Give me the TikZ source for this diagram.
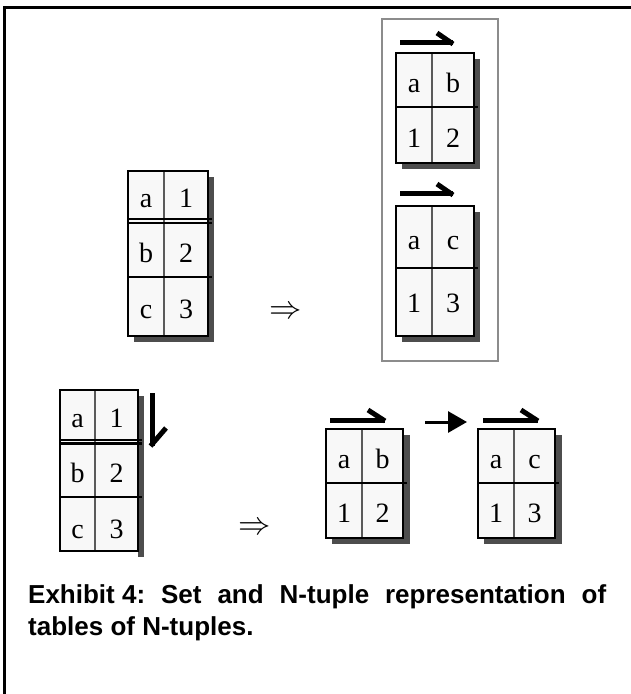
\documentclass[tikz,border=0pt]{standalone}
\usepackage{fontspec}
\setmainfont{Liberation Serif}
\newfontfamily\capfont{Liberation Sans}
\usetikzlibrary{arrows.meta}

\definecolor{shadowgray}{HTML}{4D4D4D}
\definecolor{cellfill}{HTML}{F8F8F8}
\definecolor{boxgray}{HTML}{8C8C8C}
\definecolor{divgray}{HTML}{5A5A5A}

\tikzset{
  shadowfill/.style={fill=shadowgray},
  tablefill/.style={fill=cellfill},
  celltext/.style={inner sep=0pt, text height=24pt, text depth=0pt,
    font=\fontsize{28}{30}\selectfont},
  frame/.style={draw=black, line width=2.6pt},
  coldiv/.style={draw=divgray, line width=2pt},
  rowdiv/.style={draw=black, line width=2.6pt},
  harpoon/.style={draw=black, line width=5pt, line cap=butt},
  implies/.style={inner sep=0pt, scale=1.3, font=\fontsize{24.88}{26}\selectfont},
  caption/.style={inner sep=0pt, anchor=base west,
    font=\capfont\bfseries\fontsize{26}{30}\selectfont},
}

\begin{document}
\begin{tikzpicture}[x=1pt,y=-1pt]
\useasboundingbox (0,0) rectangle (631,694);

% page rules along the top and left
\draw[line width=3pt] (3,7.5) -- (631,7.5);
\draw[line width=3pt] (4.5,6) -- (4.5,694);

% ---------- set of tuples: table with three rows ----------
\fill[shadowfill] (134,177) rectangle (214,342);
\fill[tablefill] (128,171) rectangle (208,336);
\node[celltext] (tl-a) at (146,195) {a};
\node[celltext] (tl-1) at (186,195) {1};
\node[celltext] (tl-b) at (146,250) {b};
\node[celltext] (tl-2) at (186,250) {2};
\node[celltext] (tl-c) at (146,306.5) {c};
\node[celltext] (tl-3) at (186,306.5) {3};
\draw[coldiv] (164,171) -- (164,336);
\draw[rowdiv] (128,219) -- (212,219) (128,223) -- (212,223) (128,277) -- (212,277);
\draw[frame] (128,171) rectangle (208,336);

\node[implies] (imp1) at (286,312.5) {$\Rightarrow$};

% ---------- group of two tuples ----------
\draw[draw=boxgray, line width=2.5pt] (382,19) rectangle (498,361);

% tuple a b / 1 2
\draw[harpoon] (400,42) -- (453,42);
\draw[harpoon] (437,33) -- (453,44);
\fill[shadowfill] (402,59) rectangle (480,169);
\fill[tablefill] (396,53) rectangle (474,163);
\node[celltext] (ta-a) at (414,80) {a};
\node[celltext] (ta-b) at (453,80) {b};
\node[celltext] (ta-1) at (414,135) {1};
\node[celltext] (ta-2) at (453,135) {2};
\draw[coldiv] (432,53) -- (432,163);
\draw[rowdiv] (396,107) -- (478,107);
\draw[frame] (396,53) rectangle (474,163);

% tuple a c / 1 3
\draw[harpoon] (400,193) -- (453,193);
\draw[harpoon] (437,184) -- (453,195);
\fill[shadowfill] (402,212) rectangle (480,342);
\fill[tablefill] (396,206) rectangle (474,336);
\node[celltext] (tb-a) at (414,237) {a};
\node[celltext] (tb-c) at (453,237) {c};
\node[celltext] (tb-1) at (414,300) {1};
\node[celltext] (tb-3) at (453,300) {3};
\draw[coldiv] (432,206) -- (432,336);
\draw[rowdiv] (396,268) -- (478,268);
\draw[frame] (396,206) rectangle (474,336);

% ---------- ordered table with three rows ----------
\fill[shadowfill] (138,396) rectangle (144,557);
\fill[tablefill] (60,390) rectangle (138,551);
\node[celltext] (bl-a) at (77.5,415) {a};
\node[celltext] (bl-1) at (116.5,415) {1};
\node[celltext] (bl-b) at (77.5,470) {b};
\node[celltext] (bl-2) at (116.5,470) {2};
\node[celltext] (bl-c) at (77.5,526) {c};
\node[celltext] (bl-3) at (116.5,526) {3};
\draw[coldiv] (95,390) -- (95,551);
\draw[rowdiv] (60,440) -- (142,440) (60,443.5) -- (142,443.5) (60,497) -- (142,497);
\draw[frame] (60,390) rectangle (138,551);
\draw[harpoon] (152,393) -- (152,446);
\draw[harpoon] (150.5,446) -- (166,428);

\node[implies] (imp2) at (255,529) {$\Rightarrow$};

% ---------- sequence of two tuples ----------
% tuple a b / 1 2
\draw[harpoon] (330,420) -- (385,420);
\draw[harpoon] (368,410) -- (385,421);
\fill[shadowfill] (332,435) rectangle (410,544);
\fill[tablefill] (326,429) rectangle (403,538);
\node[celltext] (tc-a) at (344,456) {a};
\node[celltext] (tc-b) at (382.5,456) {b};
\node[celltext] (tc-1) at (344,510.5) {1};
\node[celltext] (tc-2) at (382.5,510.5) {2};
\draw[coldiv] (362,429) -- (362,538);
\draw[rowdiv] (326,483) -- (407,483);
\draw[frame] (326,429) rectangle (403,538);

% tuple a c / 1 3
\draw[harpoon] (483,420) -- (538,420);
\draw[harpoon] (521,410) -- (538,421);
\fill[shadowfill] (484,435) rectangle (562,544);
\fill[tablefill] (478,429) rectangle (555,538);
\node[celltext] (td-a) at (496,456) {a};
\node[celltext] (td-c) at (534.5,456) {c};
\node[celltext] (td-1) at (496,510.5) {1};
\node[celltext] (td-3) at (534.5,510.5) {3};
\draw[coldiv] (514,429) -- (514,538);
\draw[rowdiv] (478,483) -- (559,483);
\draw[frame] (478,429) rectangle (555,538);

% successor arrow between the two tuples
\coordinate (succ-from) at (425,422);
\coordinate (succ-to) at (467,422);
\draw[line width=3pt, -{Triangle[length=19pt,width=21pt]}] (succ-from) -- (succ-to);

% ---------- caption ----------
\node[caption] (cap1) at (28,603)
  {\makebox[578pt][s]{\mbox{Exhibit 4:} Set and N-tuple representation of}};
\node[caption] (cap2) at (28,635) {tables of N-tuples.};
\end{tikzpicture}
\end{document}
